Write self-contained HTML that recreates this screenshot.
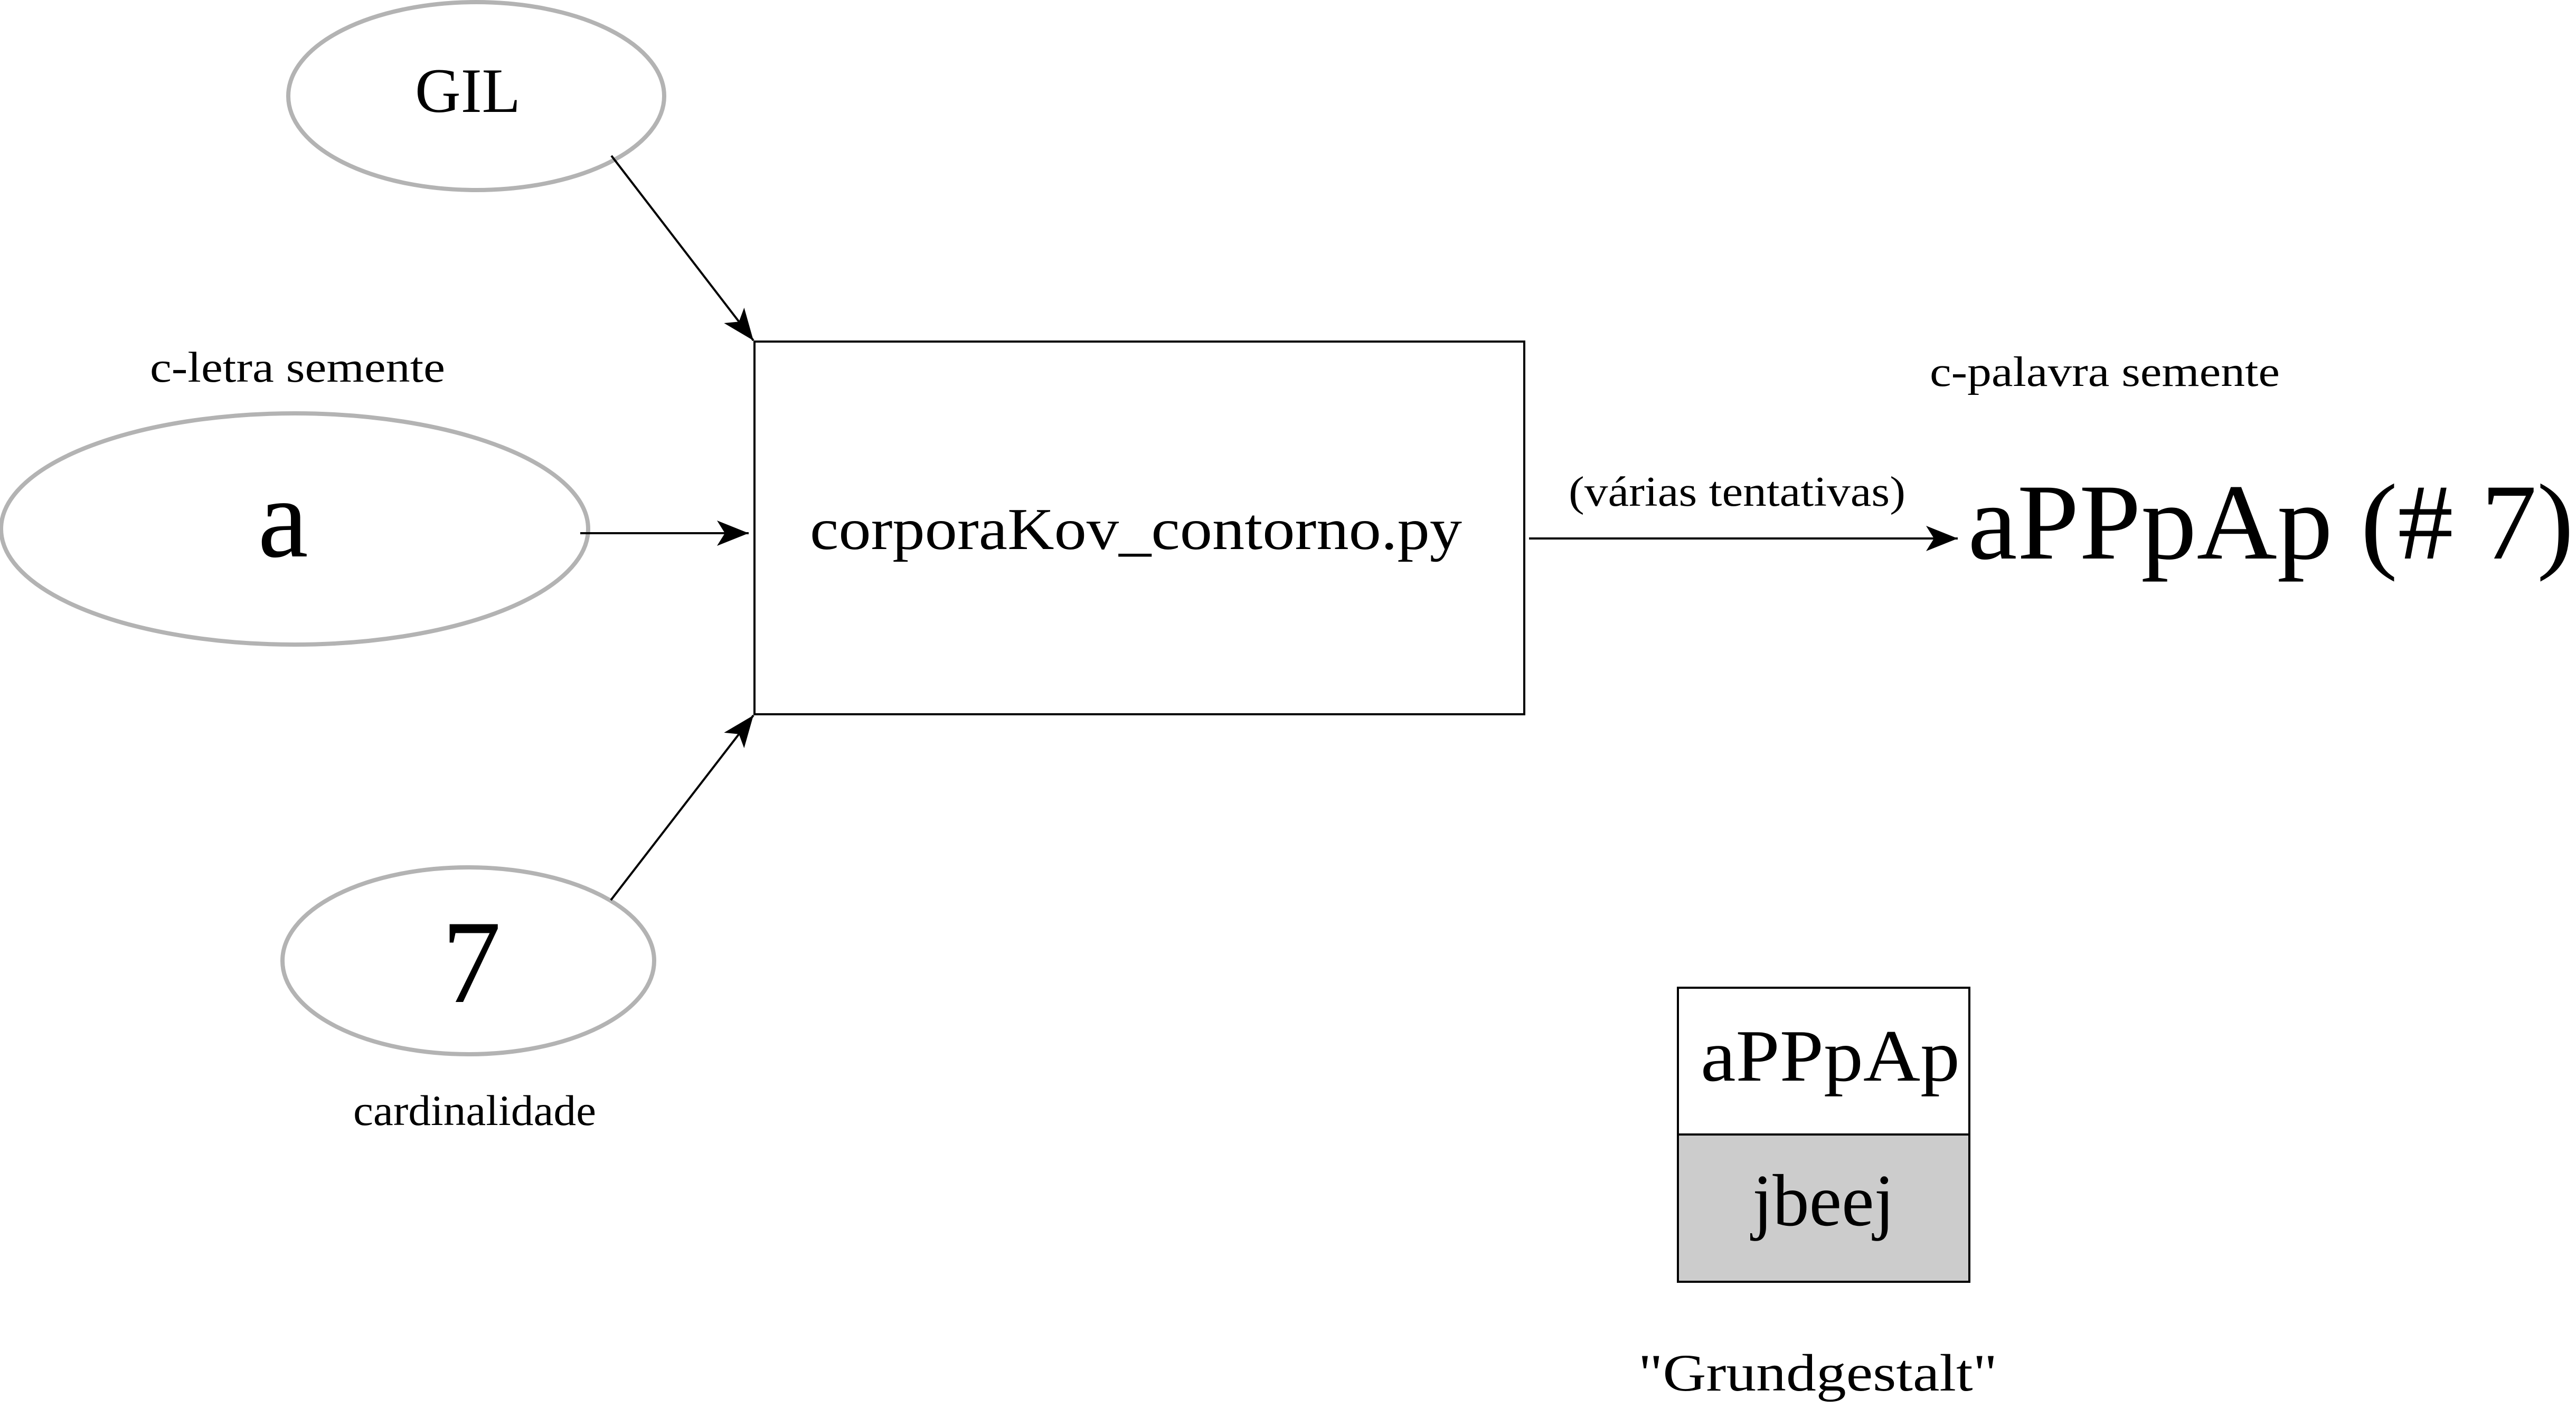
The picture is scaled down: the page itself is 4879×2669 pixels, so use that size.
<!DOCTYPE html>
<html><head><meta charset="utf-8"><style>html,body{margin:0;padding:0;background:#fff}svg{display:block}</style></head>
<body>
<svg xmlns="http://www.w3.org/2000/svg" width="4879" height="2669" viewBox="0 0 4879 2669" font-family="'Liberation Serif', serif" fill="#000">
<defs>
<marker id="ah" viewBox="0 0 20 16" refX="20" refY="8" markerWidth="20" markerHeight="16" markerUnits="userSpaceOnUse" orient="auto">
<path d="M0,0 L20,8 L0,16 L5,8 Z" fill="#000"/>
</marker>
<marker id="ah2" viewBox="0 0 20 16" refX="20" refY="8" markerWidth="60" markerHeight="48" markerUnits="userSpaceOnUse" orient="auto">
<path d="M0,0 L20,8 L0,16 L5,8 Z" fill="#000"/>
</marker>
</defs>
<rect width="4879" height="2669" fill="#fff"/>
<!-- ellipses -->
<ellipse cx="902" cy="182" rx="356" ry="178" fill="none" stroke="#b3b3b3" stroke-width="8"/>
<ellipse cx="558" cy="1002" rx="556" ry="219" fill="none" stroke="#b3b3b3" stroke-width="8"/>
<ellipse cx="887" cy="1820" rx="352" ry="177" fill="none" stroke="#b3b3b3" stroke-width="8"/>
<text x="886" y="212" font-size="120" text-anchor="middle">GIL</text>
<text x="536" y="1054" font-size="215" text-anchor="middle">a</text>
<text x="893" y="1898" font-size="225" text-anchor="middle">7</text>
<text x="284" y="723" font-size="82" textLength="559" lengthAdjust="spacingAndGlyphs">c-letra semente</text>
<text x="669" y="2131" font-size="82" textLength="460" lengthAdjust="spacingAndGlyphs">cardinalidade</text>
<!-- main box -->
<rect x="1429" y="647" width="1458" height="706" fill="none" stroke="#000" stroke-width="4"/>
<text x="1534" y="1040" font-size="112" textLength="1235" lengthAdjust="spacingAndGlyphs">corporaKov_contorno.py</text>
<!-- arrows -->
<line x1="1158" y1="295" x2="1427" y2="645" stroke="#000" stroke-width="4" marker-end="url(#ah2)"/>
<line x1="1099" y1="1010" x2="1418" y2="1010" stroke="#000" stroke-width="4" marker-end="url(#ah2)"/>
<line x1="1157" y1="1705" x2="1427" y2="1355" stroke="#000" stroke-width="4" marker-end="url(#ah2)"/>
<line x1="2896" y1="1020" x2="3708" y2="1020" stroke="#000" stroke-width="4" marker-end="url(#ah2)"/>
<text x="2971" y="958" font-size="80" textLength="638" lengthAdjust="spacingAndGlyphs">(várias tentativas)</text>
<text x="3655" y="731" font-size="80" textLength="663" lengthAdjust="spacingAndGlyphs">c-palavra semente</text>
<text x="3727" y="1058" font-size="205" textLength="1148" lengthAdjust="spacingAndGlyphs">aPPpAp (# 7)</text>
<!-- Grundgestalt box -->
<rect x="3178" y="1871" width="552" height="278" fill="#fff" stroke="#000" stroke-width="4"/>
<rect x="3178" y="2149" width="552" height="279" fill="#cccccc" stroke="#000" stroke-width="4"/>
<text x="3221" y="2047" font-size="140" textLength="491" lengthAdjust="spacingAndGlyphs">aPPpAp</text>
<text x="3319" y="2321" font-size="140" textLength="269" lengthAdjust="spacingAndGlyphs">jbeej</text>
<text x="3103" y="2634" font-size="100" textLength="680" lengthAdjust="spacingAndGlyphs">"Grundgestalt"</text>
</svg>
</body></html>
